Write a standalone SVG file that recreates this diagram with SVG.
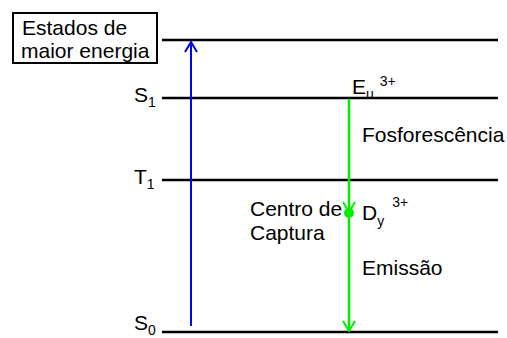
<svg xmlns="http://www.w3.org/2000/svg" width="507" height="338" viewBox="0 0 507 338">
<defs>
<style>
text{font-family:"Liberation Sans",Arial,sans-serif;font-size:21px;fill:#000}
.lvl{stroke:#000;stroke-width:2.5}
.sub{font-size:14px}
</style>
<marker id="ab" markerWidth="14" markerHeight="14" refX="7" refY="1" orient="0" markerUnits="userSpaceOnUse" viewBox="0 0 14 14"><path d="M1,11 L7,1 L13,11" fill="none" stroke="#0000ff" stroke-width="2"/></marker>
<marker id="ag" markerWidth="14" markerHeight="14" refX="7" refY="13" orient="0" markerUnits="userSpaceOnUse" viewBox="0 0 14 14"><path d="M1,3 L7,13 L13,3" fill="none" stroke="#00ee00" stroke-width="2"/></marker>
</defs>
<rect width="507" height="338" fill="#fff"/>
<g id="box">
<rect x="13" y="13" width="144" height="50" fill="#fff" stroke="#000" stroke-width="2"/>
<text x="22" y="35">Estados de</text>
<text x="21" y="58">maior energia</text>
</g>
<g id="levels">
<line class="lvl" x1="162" y1="40" x2="498" y2="40"/>
<line class="lvl" x1="162" y1="98" x2="498" y2="98"/>
<line class="lvl" x1="162" y1="180" x2="498" y2="180"/>
<line class="lvl" x1="162" y1="332" x2="498" y2="332"/>
</g>
<g id="labels">
<text x="134" y="102">S<tspan class="sub" dy="5">1</tspan></text>
<text x="134" y="184">T<tspan class="sub" dy="5">1</tspan></text>
<text x="134" y="330">S<tspan class="sub" dy="5">0</tspan></text>
<text x="352" y="94">E<tspan class="sub" dy="5">u</tspan><tspan class="sub" dx="6" dy="-13">3+</tspan></text>
<text x="362" y="142">Fosforescência</text>
<text x="250" y="216">Centro de</text>
<text x="250" y="240">Captura</text>
<text x="362" y="220">D<tspan class="sub" dy="6">y</tspan><tspan class="sub" dx="8" dy="-19">3+</tspan></text>
<text x="362" y="275">Emissão</text>
</g>
<g id="connectors">
<line x1="191" y1="326" x2="191" y2="42" stroke="#0000ff" stroke-width="2" marker-end="url(#ab)"/>
<line x1="349" y1="99" x2="349" y2="212" stroke="#00ee00" stroke-width="2.5" marker-end="url(#ag)"/>
<line x1="349" y1="212" x2="349" y2="331" stroke="#00ee00" stroke-width="2.5" marker-end="url(#ag)"/>
</g>
<g id="trap">
<circle cx="349" cy="213" r="5" fill="#00ee00"/>
</g>
</svg>
